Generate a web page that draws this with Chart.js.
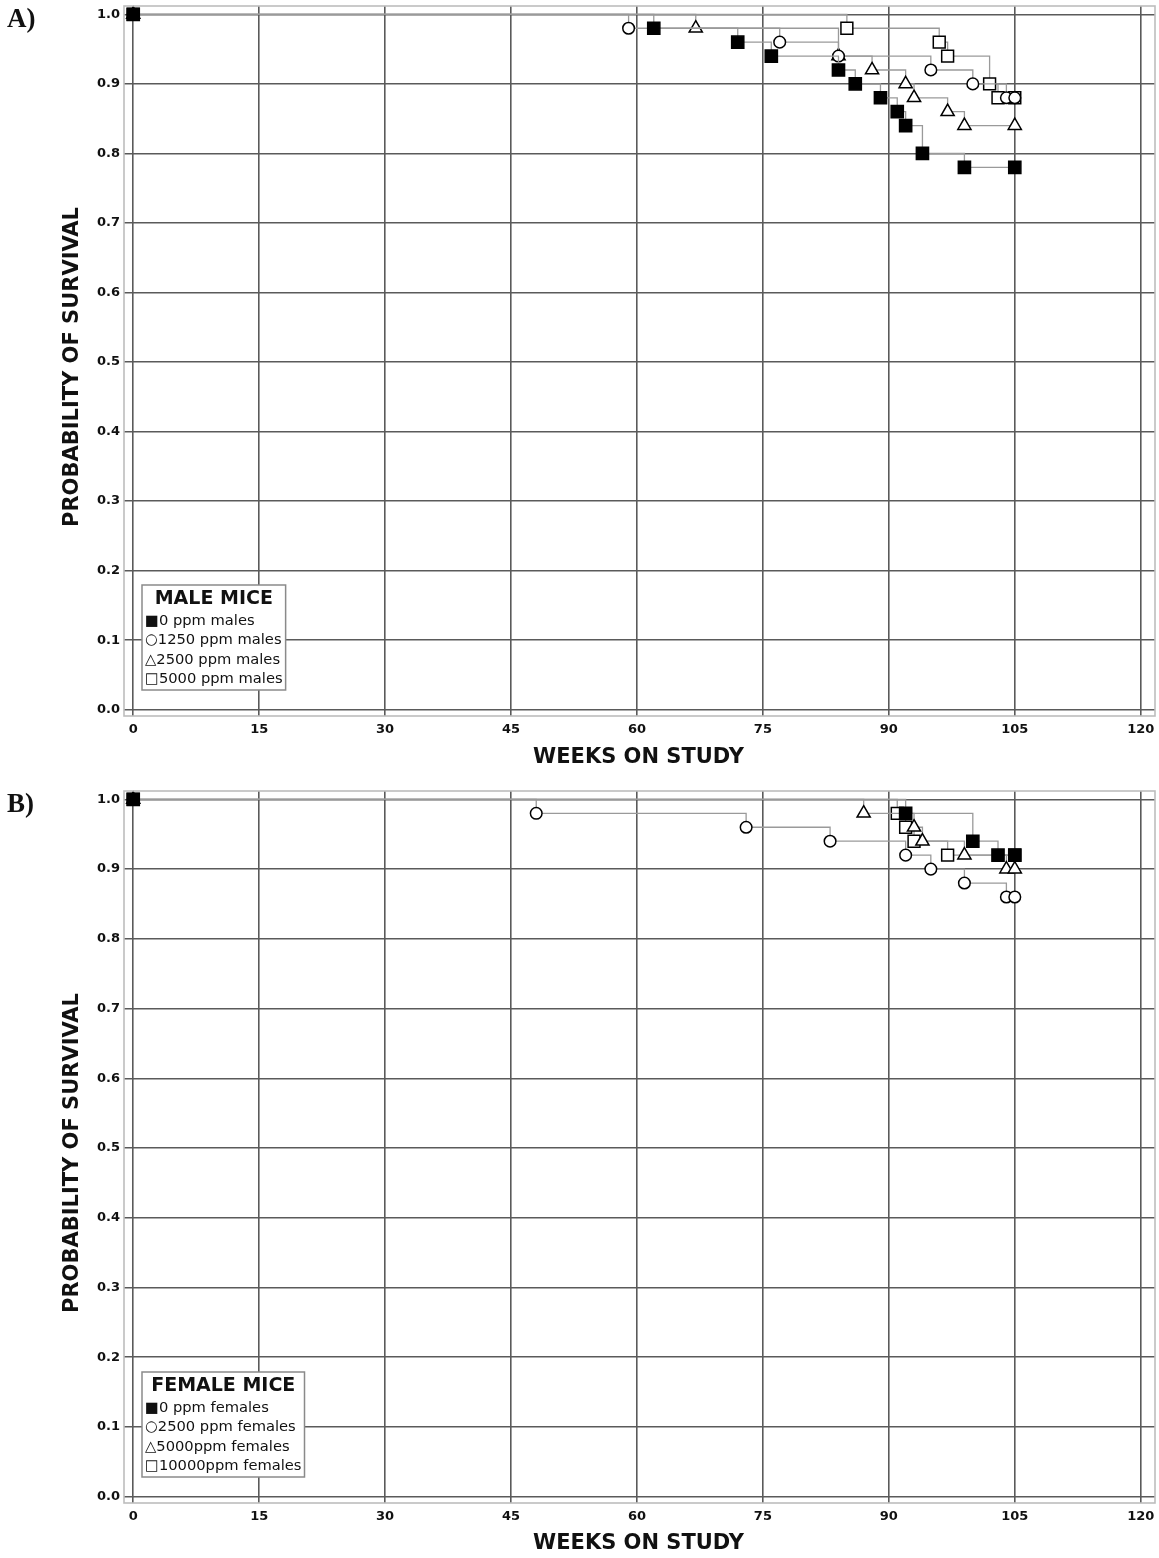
<!DOCTYPE html>
<html><head><meta charset="utf-8">
<script src="https://cdn.jsdelivr.net/npm/chart.js@4.4.0/dist/chart.umd.min.js"></script>
<style>
body{margin:0;background:#fff;width:1159px;height:1558px;overflow:hidden;position:relative;}
.wrap{position:absolute;left:0;width:1159px;}
.tag{position:absolute;left:7px;font:bold 27px "Liberation Serif",serif;color:#111;line-height:32px;}
</style></head><body>
<div class="wrap" style="top:0;height:785px"><canvas id="cA"></canvas></div>
<div class="wrap" style="top:785px;height:773px"><canvas id="cB"></canvas></div>
<div class="tag" style="top:2px">A)</div>
<div class="tag" style="top:787px">B)</div>
<script>
// ---- Data (weeks on study, probability of survival) ----
const xTicks = [0, 15, 30, 45, 60, 75, 90, 105, 120];
const yTicks = [0, 0.1, 0.2, 0.3, 0.4, 0.5, 0.6, 0.7, 0.8, 0.9, 1.0];

// Male mice
const maleLabels = ["0 ppm males", "1250 ppm males", "2500 ppm males", "5000 ppm males"];
const weeksM0    = [0, 62, 72, 76, 84, 86, 89, 91, 92, 94, 99, 105];
const survM0     = [1.0, 0.98, 0.96, 0.94, 0.92, 0.90, 0.88, 0.86, 0.84, 0.80, 0.78, 0.78];
const weeksM1250 = [0, 59, 77, 84, 95, 100, 104, 105];
const survM1250  = [1.0, 0.98, 0.96, 0.94, 0.92, 0.90, 0.88, 0.88];
const weeksM2500 = [0, 67, 84, 88, 92, 93, 97, 99, 105];
const survM2500  = [1.0, 0.98, 0.94, 0.92, 0.90, 0.88, 0.86, 0.84, 0.84];
const weeksM5000 = [0, 85, 96, 97, 102, 103, 105];
const survM5000  = [1.0, 0.98, 0.96, 0.94, 0.90, 0.88, 0.88];

// Female mice
const femaleLabels = ["0 ppm females", "2500 ppm females", "5000ppm females", "10000ppm females"];
const weeksF0     = [0, 92, 100, 103, 105];
const survF0      = [1.0, 0.98, 0.94, 0.92, 0.92];
const weeksF2500  = [0, 48, 73, 83, 92, 95, 99, 104, 105];
const survF2500   = [1.0, 0.98, 0.96, 0.94, 0.92, 0.90, 0.88, 0.86, 0.86];
const weeksF5000  = [0, 87, 93, 94, 99, 104, 105];
const survF5000   = [1.0, 0.98, 0.96, 0.94, 0.92, 0.90, 0.90];
const weeksF10000 = [0, 91, 92, 93, 97, 105];
const survF10000  = [1.0, 0.98, 0.96, 0.94, 0.92, 0.92];

const symbols = ["\u25A0", "\u25CB", "\u25B3", "\u25A1"];

// ---- Styles ----
const styles = [
  {pointStyle:'rect', radius:8.6, fill:'#000'},
  {pointStyle:'circle', radius:5.8, fill:'#fff'},
  {pointStyle:'triangle', radius:7.6, fill:'#fff'},
  {pointStyle:'rect', radius:8.4, fill:'#fff'}
];

function pts(w, s){ return w.map((x,i)=>({x:x, y:s[i]})); }

function makeDatasets(labels, series){
  return series.map((ser,i)=>({
    label: labels[i],
    data: pts(ser[0], ser[1]),
    stepped: true,
    borderColor: '#9a9a9a',
    borderWidth: 1.3,
    pointStyle: styles[i].pointStyle,
    pointRadius: styles[i].radius,
    pointBackgroundColor: styles[i].fill,
    pointBorderColor: '#000',
    pointBorderWidth: 1.5,
    fill: false,
    clip: false
  }));
}

const deco = {
  id: 'deco',
  afterDraw(chart, args, o){
    const ctx = chart.ctx, a = chart.chartArea;
    ctx.save();
    ctx.strokeStyle = '#bdbdbd'; ctx.lineWidth = 1.6;
    ctx.strokeRect(a.left, a.top, a.right - a.left, a.bottom - a.top);
    ctx.fillStyle = '#111';
    ctx.font = 'bold 21px "DejaVu Sans"';
    ctx.textAlign = 'center'; ctx.textBaseline = 'middle';
    ctx.fillText("WEEKS ON STUDY", (a.left + a.right)/2 - 1, o.xTitleY);
    ctx.save();
    ctx.translate(73, (a.top + a.bottom)/2 + 6);
    ctx.rotate(-Math.PI/2);
    ctx.fillText("PROBABILITY OF SURVIVAL", 0, 0);
    ctx.restore();
    // legend box
    const itemFont = '14.7px "DejaVu Sans"', titleFont = 'bold 19px "DejaVu Sans"';
    const items = chart.data.datasets.map((d,i)=>symbols[i] + d.label);
    ctx.font = itemFont;
    let w = 0; items.forEach(t=>{ w = Math.max(w, ctx.measureText(t).width); });
    const bx = 142, bw = w + 6, lh = 19.5, bh = 105;
    const by = a.bottom - 26 - bh;
    ctx.fillStyle = '#fff'; ctx.fillRect(bx, by, bw, bh);
    ctx.strokeStyle = '#8a8a8a'; ctx.lineWidth = 1.5; ctx.strokeRect(bx, by, bw, bh);
    ctx.fillStyle = '#111';
    ctx.font = titleFont; ctx.textAlign = 'center'; ctx.textBaseline = 'middle';
    ctx.fillText(o.title, bx + bw/2, by + 14);
    ctx.font = itemFont; ctx.textAlign = 'left';
    items.forEach((t,i)=>{ ctx.fillText(t, bx + 3, by + 36 + i*lh); });
    ctx.restore();
  }
};

function makeChart(id, labels, series, title, xH, xTitleY){
  return new Chart(document.getElementById(id), {
    type: 'line',
    data: { datasets: makeDatasets(labels, series) },
    options: {
      responsive: true, maintainAspectRatio: false, animation: false,
      layout: { autoPadding: false, padding: { top: 6, right: 4, left: 0, bottom: 0 } },
      plugins: { legend: {display:false}, tooltip: {enabled:false}, deco: {title: title, xTitleY: xTitleY} },
      scales: {
        x: {
          type: 'linear', min: -1.1, max: 121.7,
          afterBuildTicks: s => { s.ticks = xTicks.map(v=>({value:v})); },
          afterFit: s => { s.height = xH; s.paddingLeft = 0; s.paddingRight = 0; },
          grid: { color: '#5a5a5a', lineWidth: 1.6, drawTicks: false },
          border: { display: false },
          ticks: { padding: 6, color: '#111', font: {family:'DejaVu Sans', weight:'bold', size:13}, maxRotation: 0, autoSkip: false }
        },
        y: {
          type: 'linear', min: -0.009, max: 1.012,
          afterBuildTicks: s => { s.ticks = yTicks.map(v=>({value:v})); },
          afterFit: s => { s.width = 124; s.paddingTop = 0; s.paddingBottom = 0; },
          grid: { color: '#5a5a5a', lineWidth: 1.6, drawTicks: false },
          border: { display: false },
          ticks: { padding: 4, color: '#111', font: {family:'DejaVu Sans', weight:'bold', size:13}, callback: v => v.toFixed(1) }
        }
      }
    },
    plugins: [deco]
  });
}

makeChart('cA', maleLabels,
  [[weeksM0, survM0], [weeksM1250, survM1250], [weeksM2500, survM2500], [weeksM5000, survM5000]],
  "MALE MICE", 69, 758);
makeChart('cB', femaleLabels,
  [[weeksF0, survF0], [weeksF2500, survF2500], [weeksF5000, survF5000], [weeksF10000, survF10000]],
  "FEMALE MICE", 55, 759);
</script>
</body></html>
